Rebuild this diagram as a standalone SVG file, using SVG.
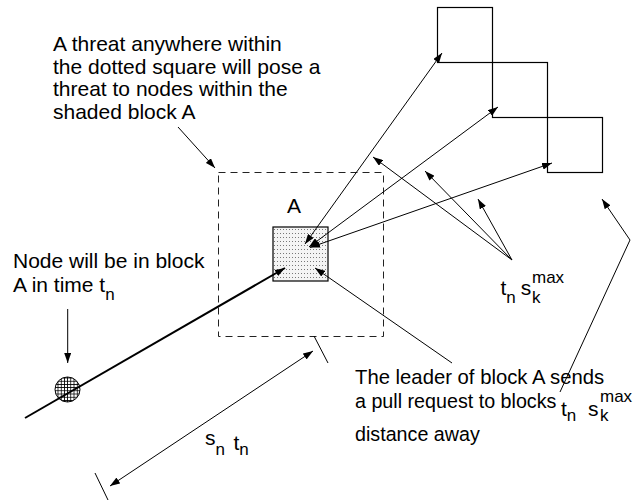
<svg xmlns="http://www.w3.org/2000/svg" width="642" height="504" viewBox="0 0 642 504">
<style>
text{font-family:"Liberation Sans",Arial,sans-serif;font-size:21px;fill:#000}
.sub{font-size:17px}
.sm{font-size:19.7px}
.ln{stroke:#000;stroke-width:1;fill:none}
.sq{stroke:#000;stroke-width:1.2;fill:none}
</style>
<defs>
<marker id="ah" markerUnits="userSpaceOnUse" markerWidth="10" markerHeight="7" refX="10" refY="3.5" orient="auto-start-reverse">
<path d="M0,0 L10,3.5 L0,7 z" fill="#000"/>
</marker>
<pattern id="dots" width="3" height="4" patternUnits="userSpaceOnUse">
<rect width="3" height="4" fill="#f4f4f4"/>
<rect x="1" y="1" width="1" height="1" fill="#777"/>
</pattern>
<pattern id="hatch" width="3.2" height="3.2" patternUnits="userSpaceOnUse">
<rect width="3.2" height="3.2" fill="#fff"/>
<path d="M0,0.4 H3.2 M0.4,0 V3.2" stroke="#000" stroke-width="0.8"/>
</pattern>
</defs>
<rect width="642" height="504" fill="#fff"/>

<g id="dotted-square"><rect x="218.5" y="172.5" width="165" height="164" fill="none" stroke="#222" stroke-width="1" stroke-dasharray="7,5"/></g>
<g id="block-A">
<rect x="273" y="227" width="55" height="54" fill="url(#dots)" stroke="#000" stroke-width="1.2"/>
<text x="294" y="212.7" text-anchor="middle">A</text>
</g>
<g id="square-1"><rect class="sq" x="437.5" y="7.5" width="55" height="55"/></g>
<g id="square-2"><rect class="sq" x="492.5" y="62.5" width="55" height="55"/></g>
<g id="square-3"><rect class="sq" x="547.5" y="117.5" width="55" height="55"/></g>
<g id="node"><circle cx="67.5" cy="389.5" r="12.5" fill="url(#hatch)" stroke="#000" stroke-width="1"/></g>

<g id="text-threat">
<text x="53" y="51">A threat anywhere within</text>
<text x="53" y="73.5">the dotted square will pose a</text>
<text x="53" y="96">threat to nodes within the</text>
<text x="53" y="118.5">shaded block A</text>
</g>
<g id="text-node">
<text x="13" y="268">Node will be in block</text>
<text x="13" y="291.7">A in time t<tspan class="sub" dy="8">n</tspan></text>
</g>
<g id="label-tnsk">
<text x="500.5" y="295">t<tspan class="sub" dy="8">n</tspan><tspan dx="5" dy="-8">s</tspan><tspan class="sub" x="532" dy="8">k</tspan><tspan class="sub" x="532" y="283">max</tspan></text>
</g>
<g id="text-leader">
<text x="355" y="384.3" style="font-size:20.3px">The leader of block A sends</text>
<text class="sm" x="355" y="408">a pull request to blocks</text>
<text x="561" y="416">t<tspan class="sub" dy="5">n</tspan><tspan x="588" dy="-5">s</tspan><tspan class="sub" x="600" dy="5">k</tspan><tspan class="sub" x="600" y="402">max</tspan></text>
<text class="sm" x="355" y="441">distance away</text>
</g>
<g id="label-sntn">
<text x="205" y="445">s<tspan class="sub" dy="10">n</tspan><tspan x="233.5" dy="-5">t</tspan><tspan class="sub" dy="5">n</tspan></text>
</g>

<g id="connectors">
<line class="ln" x1="178" y1="127" x2="215" y2="168" marker-end="url(#ah)"/>
<line class="ln" x1="67.7" y1="309" x2="67.7" y2="363" marker-end="url(#ah)"/>
<line x1="25" y1="418" x2="285" y2="268" stroke="#000" stroke-width="2" marker-end="url(#ah)"/>
<line class="ln" x1="305" y1="244" x2="442" y2="53" marker-start="url(#ah)" marker-end="url(#ah)"/>
<line class="ln" x1="309" y1="247" x2="498" y2="107" marker-start="url(#ah)" marker-end="url(#ah)"/>
<line class="ln" x1="310" y1="247.5" x2="552" y2="163" marker-start="url(#ah)" marker-end="url(#ah)"/>
<line class="ln" x1="512" y1="260" x2="373" y2="157" marker-end="url(#ah)"/>
<line class="ln" x1="512" y1="260" x2="425" y2="171" marker-end="url(#ah)"/>
<line class="ln" x1="512" y1="260" x2="478" y2="199" marker-end="url(#ah)"/>
<line class="ln" x1="452" y1="363" x2="315" y2="268" marker-end="url(#ah)"/>
<polyline class="ln" points="560,392 630,240 602,199" marker-end="url(#ah)"/>
<line class="ln" x1="110" y1="486" x2="313" y2="351" marker-start="url(#ah)" marker-end="url(#ah)"/>
<line class="ln" x1="314" y1="336" x2="328" y2="363"/>
<line class="ln" x1="95" y1="473" x2="108" y2="500"/>
</g>
</svg>
